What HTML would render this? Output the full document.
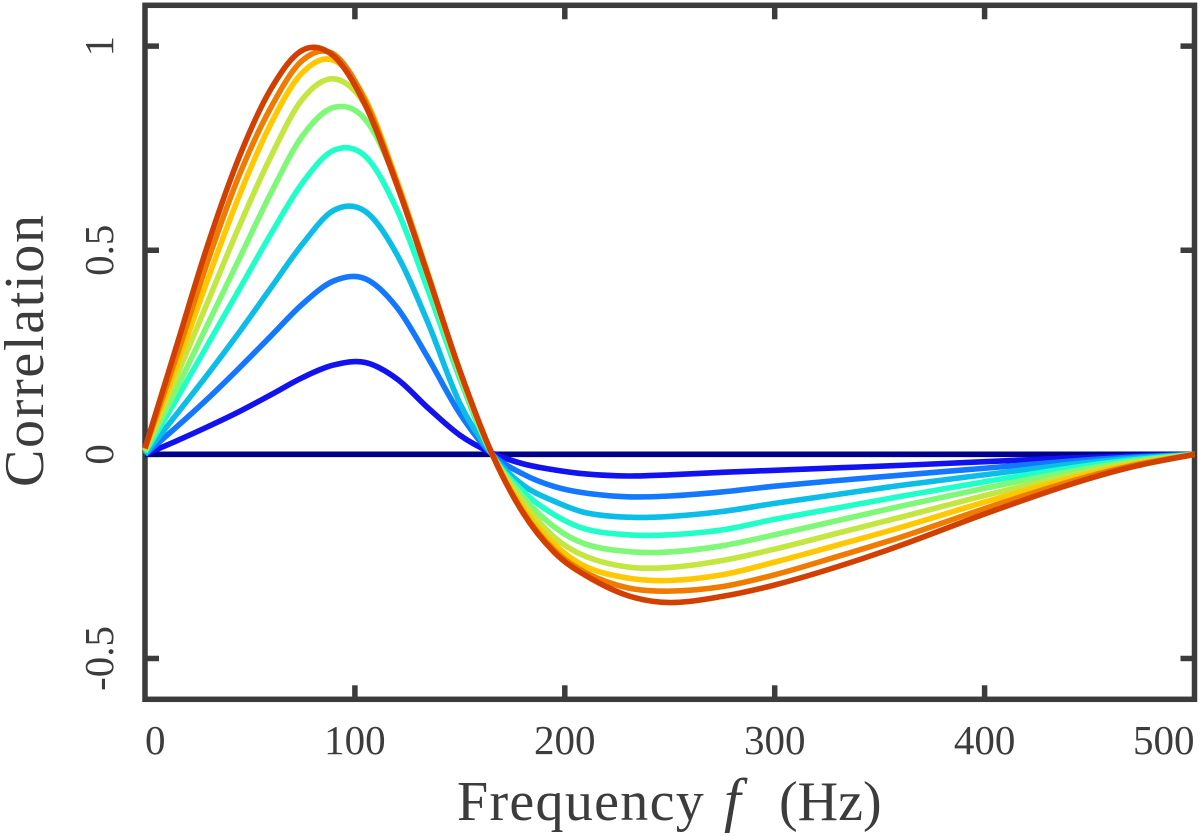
<!DOCTYPE html>
<html lang="en">
<head>
<meta charset="utf-8">
<title>Correlation vs Frequency</title>
<style>
  html, body { margin: 0; padding: 0; background: #fff; }
  svg { display: block; }
  text { font-family: "Liberation Serif", serif; fill: #3c3c3c; }
</style>
</head>
<body>
<svg id="chart" width="1200" height="836" viewBox="0 0 1200 836" xmlns="http://www.w3.org/2000/svg">
  <rect x="0" y="0" width="1200" height="836" fill="#ffffff"></rect>
  <g id="axes"></g>
  <g id="series"></g>
  <text y="820" font-size="56"><tspan x="457" letter-spacing="1.3">Frequency</tspan><tspan x="724" y="820" font-style="italic" font-size="60">f</tspan><tspan x="779" y="820">(Hz)</tspan></text>
  <text transform="translate(43,487) rotate(-90)" x="0" y="0" font-size="56" textLength="272" lengthAdjust="spacing">Correlation</text>
</svg>
<script>
// Chart data
const frequencies = [0,15,30,45,60,75,90,105,120,135,150,165,180,195,210,230,250,275,300,330,360,400,440,470,500];
const seriesNames = ['level-0','level-1','level-2','level-3','level-4','level-5','level-6','level-7','level-8','level-9'];
const seriesColors = ['#00008c','#1212f0','#1478ff','#0cbde8','#20ffc9','#7ef877','#c3e640','#ffc800','#ef7c00','#d14000'];
const level0 = [0,0,0,0,0,0,0,0,0,0,0,0,0,0,0,0,0,0,0,0,0,0,0,0,0];
const level1 = [0,.033,.068,.105,.146,.188,.219,.225,.185,.113,.047,.004,-.023,-.038,-.048,-.053,-.05,-.044,-.039,-.033,-.027,-.018,-.009,-.004,0];
const level2 = [0,.067,.137,.212,.29,.368,.425,.43,.36,.235,.1,.002,-.048,-.079,-.095,-.104,-.102,-.092,-.078,-.064,-.051,-.034,-.017,-.007,0];
const level3 = [0,.098,.197,.30,.408,.515,.598,.595,.49,.32,.125,.002,-.075,-.115,-.143,-.154,-.152,-.14,-.12,-.098,-.076,-.05,-.025,-.01,0];
const level4 = [.005,.135,.27,.405,.54,.665,.745,.73,.60,.40,.185,.003,-.09,-.148,-.183,-.197,-.197,-.185,-.159,-.131,-.103,-.067,-.034,-.014,0];
const level5 = [.008,.16,.32,.48,.64,.78,.85,.82,.665,.43,.195,.004,-.103,-.178,-.22,-.238,-.239,-.224,-.197,-.162,-.127,-.083,-.043,-.018,0];
const level6 = [.01,.19,.375,.56,.73,.87,.92,.855,.67,.435,.2,.005,-.115,-.203,-.25,-.276,-.277,-.26,-.232,-.193,-.154,-.101,-.052,-.021,0];
const level7 = [.012,.215,.43,.635,.81,.935,.965,.87,.67,.44,.203,.005,-.13,-.22,-.275,-.303,-.309,-.295,-.264,-.222,-.179,-.117,-.06,-.025,0];
const level8 = [.014,.24,.475,.685,.85,.965,.98,.865,.665,.437,.205,.005,-.14,-.235,-.29,-.327,-.335,-.324,-.295,-.25,-.203,-.133,-.068,-.028,0];
const level9 = [.015,.265,.515,.73,.895,.99,.975,.855,.66,.435,.205,.005,-.1425,-.24,-.297,-.346,-.363,-.348,-.32,-.275,-.223,-.146,-.075,-.031,0];
const xTickValues = [0,100,200,300,400,500];
const xTickLabels = ['0','100','200','300','400','500'];
const yTickValues = [-0.5,0,0.5,1];
const yTickLabels = ['-0.5','0','0.5','1'];

const allSeries = [level0,level1,level2,level3,level4,level5,level6,level7,level8,level9];

// Plot geometry and axis functions
const plot = { left: 145, right: 1194.5, top: 5.3, bottom: 699.3 };
const xDomain = [0, 500];
const yDomain = [-0.6, 1.1];
function xScale(v) {
  return plot.left + (v - xDomain[0]) / (xDomain[1] - xDomain[0]) * (plot.right - plot.left);
}
function yScale(v) {
  return plot.bottom - (v - yDomain[0]) / (yDomain[1] - yDomain[0]) * (plot.bottom - plot.top);
}

const NS = 'http://www.w3.org/2000/svg';
const axesGroup = document.getElementById('axes');
const seriesGroup = document.getElementById('series');
const INK = '#3c3c3c';

function tickLine(x1, y1, x2, y2) {
  const el = document.createElementNS(NS, 'line');
  el.setAttribute('x1', x1);
  el.setAttribute('y1', y1);
  el.setAttribute('x2', x2);
  el.setAttribute('y2', y2);
  el.setAttribute('stroke', INK);
  el.setAttribute('stroke-width', 5.5);
  return el;
}

// Plot frame
const frame = document.createElementNS(NS, 'rect');


frame.setAttribute('x', plot.left);
frame.setAttribute('y', plot.top);
frame.setAttribute('width', plot.right - plot.left);
frame.setAttribute('height', plot.bottom - plot.top);
frame.setAttribute('fill', 'none');
frame.setAttribute('stroke', INK);
frame.setAttribute('stroke-width', 5.5);
axesGroup.appendChild(frame);

// X ticks and labels
xTickValues.forEach(function (v, i) {
  const x = xScale(v);
  const isEdge = (i === 0 || i === xTickValues.length - 1);
  if (!isEdge) {
    const bottomTick = tickLine(x, plot.bottom, x, plot.bottom - 14);
    
    
    axesGroup.appendChild(bottomTick);
    const topTick = tickLine(x, plot.top, x, plot.top + 14);
    
    
    axesGroup.appendChild(topTick);
  }
  const label = document.createElementNS(NS, 'text');
  
  
  label.setAttribute('x', x);
  label.setAttribute('y', 754);
  label.setAttribute('font-size', 41);
  label.setAttribute('text-anchor', i === 0 ? 'start' : (i === xTickValues.length - 1 ? 'end' : 'middle'));
  label.textContent = xTickLabels[i];
  axesGroup.appendChild(label);
});

// Y ticks and labels
yTickValues.forEach(function (v, i) {
  const y = yScale(v);
  const leftTick = tickLine(plot.left, y, plot.left + 14, y);
  
  
  axesGroup.appendChild(leftTick);
  const rightTick = tickLine(plot.right, y, plot.right - 14, y);
  
  
  axesGroup.appendChild(rightTick);
  const label = document.createElementNS(NS, 'text');
  
  
  label.setAttribute('transform', 'translate(113,' + y + ') rotate(-90)');
  label.setAttribute('font-size', 41);
  label.setAttribute('text-anchor', 'middle');
  label.textContent = yTickLabels[i];
  axesGroup.appendChild(label);
});

// Smooth curve through the data values
function curvePath(xs, ys) {
  const px = xs.map(xScale);
  const py = ys.map(yScale);
  const n = px.length;
  const m = px.map(function (_, i) {
    const a = Math.max(0, i - 1);
    const b = Math.min(n - 1, i + 1);
    return (py[b] - py[a]) / (px[b] - px[a]);
  });
  let d = 'M' + px[0].toFixed(2) + ' ' + py[0].toFixed(2);
  for (let i = 0; i < n - 1; i++) {
    const dx = px[i + 1] - px[i];
    d += 'C' + (px[i] + dx / 3).toFixed(2) + ' ' + (py[i] + m[i] * dx / 3).toFixed(2) +
         ' ' + (px[i + 1] - dx / 3).toFixed(2) + ' ' + (py[i + 1] - m[i + 1] * dx / 3).toFixed(2) +
         ' ' + px[i + 1].toFixed(2) + ' ' + py[i + 1].toFixed(2);
  }
  return d;
}

allSeries.forEach(function (values, i) {
  const path = document.createElementNS(NS, 'path');
  
  
  path.setAttribute('d', curvePath(frequencies, values));
  path.setAttribute('fill', 'none');
  path.setAttribute('stroke', seriesColors[i]);
  path.setAttribute('stroke-width', 5.6);
  path.setAttribute('stroke-linejoin', 'round');
  seriesGroup.appendChild(path);
});
</script>
</body>
</html>
